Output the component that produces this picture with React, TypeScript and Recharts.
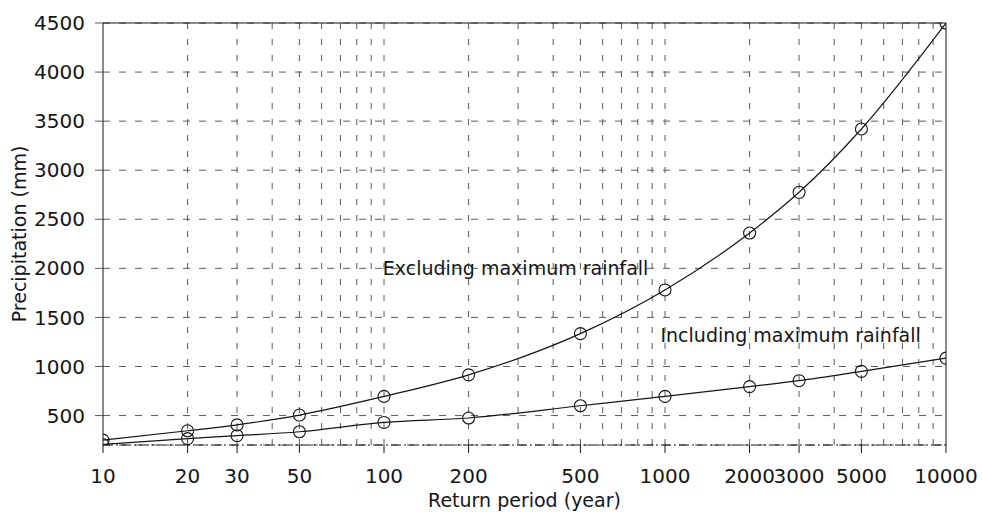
import React from "react";
import {
  LineChart,
  Line,
  XAxis,
  YAxis,
  CartesianGrid,
  ReferenceLine,
  ReferenceDot
} from "recharts";

// return periods (years) and precipitation (mm)
const returnPeriods = [10, 20, 30, 50, 100, 200, 500, 1000, 2000, 3000, 5000, 10000];
const excludingMax = [250, 345, 405, 505, 695, 915, 1335, 1780, 2360, 2775, 3420, 4500];
const includingMax = [205, 265, 295, 335, 430, 475, 600, 695, 795, 855, 950, 1085];

const xTicks = [10, 20, 30, 50, 100, 200, 500, 1000, 2000, 3000, 5000, 10000];
const yTicks = [500, 1000, 1500, 2000, 2500, 3000, 3500, 4000, 4500];
// log grid lines (10..90, 100..900, 1000..9000)
const minorGrid = [
  20, 30, 40, 50, 60, 70, 80, 90,
  100, 200, 300, 400, 500, 600, 700, 800, 900,
  1000, 2000, 3000, 4000, 5000, 6000, 7000, 8000, 9000
];

const data = returnPeriods.map((t, i) => ({
  period: t,
  excluding: excludingMax[i],
  including: includingMax[i]
}));

const FONT = "'DejaVu Sans', sans-serif";
const INK = "#151515";
const GRID = "#5a5a5a";

export default function App() {
  return (
    // pinned to the corner so the body margin doesn't push it into a scrollbar
    <div style={{ position: "absolute", left: 0, top: 0, width: 982, height: 512, background: "#fff", fontFamily: FONT }}>
      <LineChart
        width={982}
        height={512}
        data={data}
        margin={{ top: 23, right: 36, left: 0, bottom: 0 }}
      >
        <CartesianGrid vertical={false} stroke={GRID} strokeDasharray="7 9" />
        {minorGrid.map((v) => (
          <ReferenceLine key={v} x={v} stroke={GRID} strokeDasharray="6 10" />
        ))}
        <ReferenceLine y={4500} stroke={INK} strokeWidth={1} />
        <ReferenceLine x={10000} stroke={INK} strokeWidth={1} />
        <XAxis
          dataKey="period"
          type="number"
          scale="log"
          domain={[10, 10000]}
          ticks={xTicks}
          interval={0}
          allowDataOverflow
          height={67}
          tickSize={8}
          tickMargin={16}
          axisLine={{ stroke: INK, strokeDasharray: "10 3 2 3" }}
          tickLine={{ stroke: INK }}
          tick={{ fontSize: 20, fill: INK, fontFamily: FONT }}
          label={{
            value: "Return period (year)",
            position: "insideBottom",
            offset: 5,
            fontSize: 19,
            fill: INK,
            fontFamily: FONT
          }}
        />
        <YAxis
          type="number"
          domain={[200, 4500]}
          ticks={yTicks}
          interval={0}
          allowDataOverflow
          width={103}
          tickSize={8}
          tickMargin={10}
          axisLine={{ stroke: INK }}
          tickLine={{ stroke: GRID }}
          tick={{ fontSize: 20, fill: INK, fontFamily: FONT }}
          label={{
            value: "Precipitation (mm)",
            angle: -90,
            position: "insideLeft",
            offset: 19,
            fontSize: 19,
            fill: INK,
            fontFamily: FONT,
            style: { textAnchor: "middle" }
          }}
        />
        <Line
          type="monotone"
          dataKey="excluding"
          stroke={INK}
          strokeWidth={1.2}
          dot={{ r: 6, fill: "none", stroke: INK, strokeWidth: 1.1 }}
          isAnimationActive={false}
        />
        <Line
          type="monotone"
          dataKey="including"
          stroke={INK}
          strokeWidth={1.2}
          dot={{ r: 6, fill: "none", stroke: INK, strokeWidth: 1.1 }}
          isAnimationActive={false}
        />
        <ReferenceDot
          x={294}
          y={2006}
          r={0}
          stroke="none"
          label={{ value: "Excluding maximum rainfall", position: "center", fontSize: 19, fill: INK, fontFamily: FONT }}
        />
        <ReferenceDot
          x={2800}
          y={1323}
          r={0}
          stroke="none"
          label={{ value: "Including maximum rainfall", position: "center", fontSize: 19, fill: INK, fontFamily: FONT }}
        />
      </LineChart>
    </div>
  );
}
